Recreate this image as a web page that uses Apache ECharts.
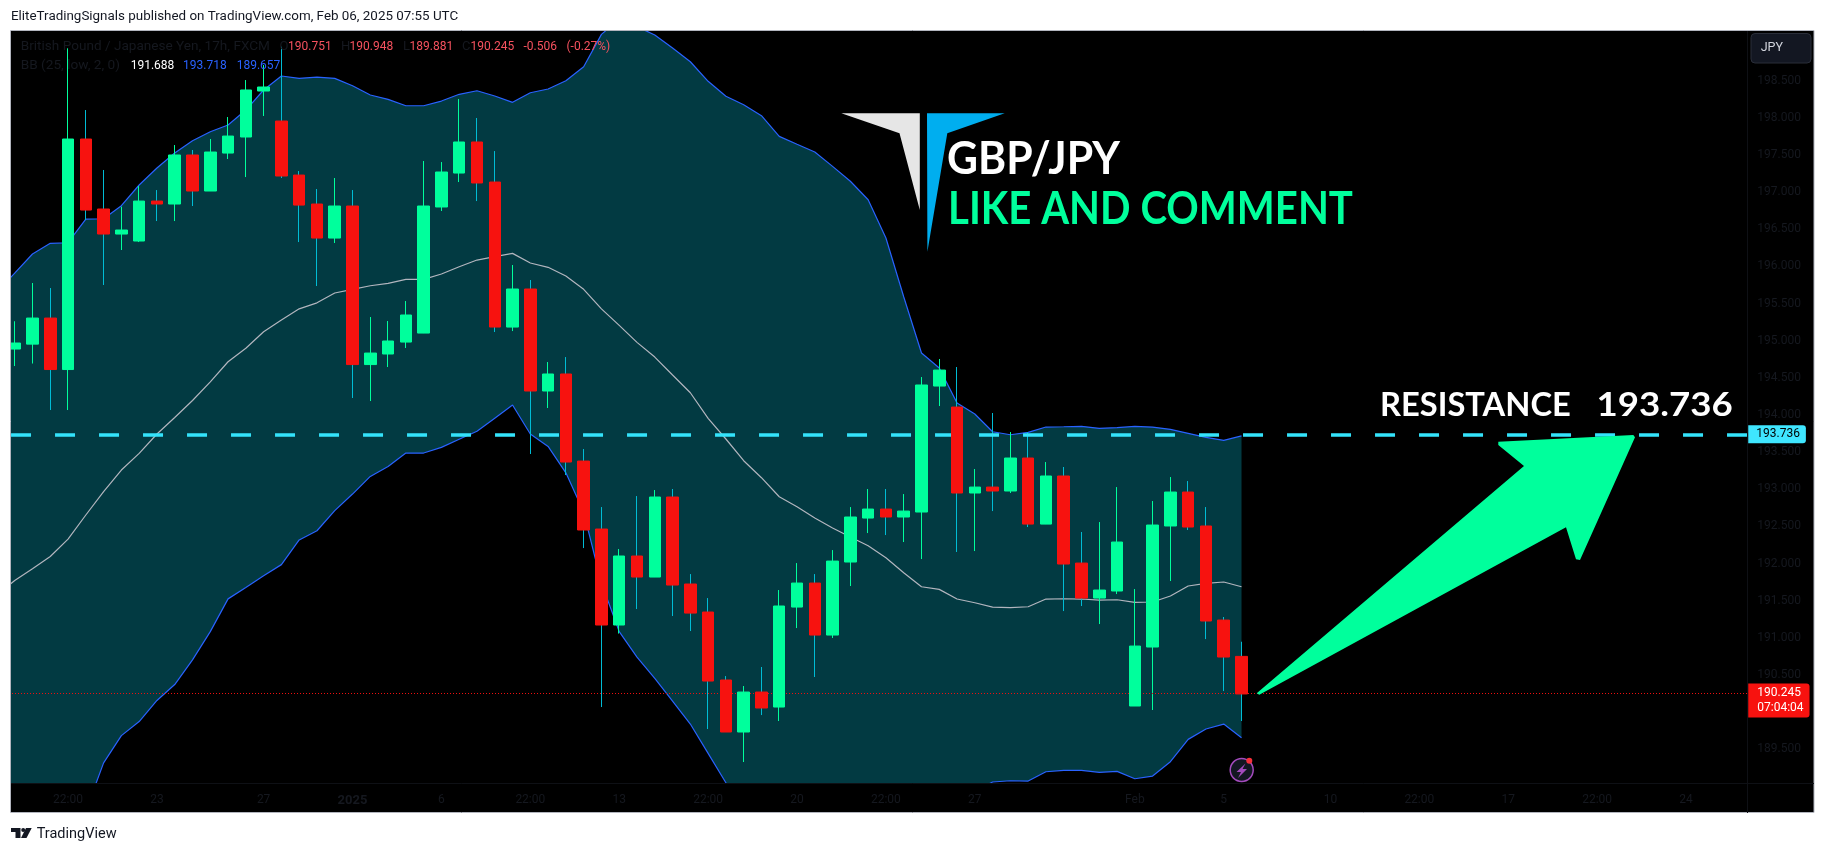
<!DOCTYPE html>
<html><head><meta charset="utf-8">
<style>html,body{margin:0;padding:0;background:#fff}#c{width:1826px;height:853px}</style>
<script src="https://cdn.jsdelivr.net/npm/echarts@6/dist/echarts.min.js"></script>
</head><body><div id="c"></div>
<script>
const opens=[194.888,194.954,195.305,194.612,197.715,196.773,196.436,196.342,196.880,196.840,197.500,197.015,197.526,197.742,198.361,197.957,197.230,196.840,196.382,196.813,194.679,194.821,194.982,195.103,196.800,197.257,197.675,197.136,195.184,195.696,194.323,194.552,193.380,192.465,191.173,192.102,191.819,192.896,191.725,191.348,190.433,189.733,190.271,190.069,191.415,191.738,191.038,192.021,192.613,192.734,192.627,192.694,194.390,194.107,192.950,193.030,192.977,193.421,192.532,193.179,192.007,191.536,191.631,190.083,190.877,192.506,192.963,192.506,191.240,190.751];
const closes=[194.969,195.305,194.612,197.715,196.759,196.436,196.490,196.880,196.840,197.500,197.015,197.540,197.755,198.375,198.415,197.217,196.826,196.382,196.813,194.679,194.834,194.996,195.346,196.813,197.271,197.675,197.123,195.184,195.696,194.323,194.552,193.367,192.452,191.173,192.102,191.819,192.896,191.711,191.334,190.419,189.733,190.271,190.056,191.429,191.738,191.038,192.034,192.627,192.734,192.627,192.707,194.404,194.605,192.950,193.030,192.977,193.421,192.532,193.179,191.994,191.536,191.644,192.290,190.890,192.519,192.963,192.492,191.227,190.742,190.245];
const lows=[194.659,194.693,194.067,194.067,196.625,195.750,196.221,196.328,196.611,196.611,196.813,197.015,197.446,197.203,198.025,197.190,196.328,195.736,196.315,194.229,194.188,194.646,194.902,195.103,196.746,197.136,196.880,195.117,195.130,193.475,194.094,193.192,192.209,190.069,191.058,191.388,191.819,191.294,191.092,189.773,189.733,189.329,189.961,189.881,191.132,190.473,190.998,191.698,192.411,192.384,192.290,192.061,194.121,192.156,192.169,192.707,192.950,192.492,192.532,191.361,191.429,191.186,191.590,190.083,190.029,191.765,192.452,190.984,190.284,189.881];
const highs=[195.262,195.777,195.709,198.936,198.105,197.298,196.804,197.082,197.028,197.634,197.567,197.715,198.011,198.509,198.711,198.957,197.284,197.042,197.190,197.028,195.319,195.265,195.534,197.419,197.405,198.253,197.998,197.553,196.019,195.817,194.713,194.780,193.542,192.761,192.196,192.909,192.990,193.004,191.859,191.536,190.486,190.352,190.608,191.644,192.007,191.859,192.182,192.761,193.004,193.004,192.936,194.511,194.754,194.646,193.273,194.027,193.771,193.771,193.367,193.300,192.425,192.559,193.030,191.657,192.842,193.165,193.111,192.761,191.281,190.948];
// Bollinger bands: first value belongs to the bar just left of the visible pane
const bbUpper=[195.655,195.911,196.167,196.311,196.319,196.638,196.642,196.817,197.096,197.325,197.526,197.692,197.813,197.903,198.105,198.375,198.563,198.532,198.549,198.532,198.432,198.307,198.249,198.163,198.163,198.226,198.317,198.365,198.294,198.209,198.338,198.388,198.500,198.688,199.124,199.328,199.228,199.115,198.940,198.755,198.492,198.290,198.177,198.029,197.751,197.644,197.540,197.347,197.146,196.898,196.382,195.592,194.834,194.632,194.161,194.013,193.775,193.734,193.767,193.838,193.842,193.848,193.821,193.829,193.848,193.838,193.807,193.753,193.699,193.659,193.718];
const bbBasis=[191.577,191.772,191.929,192.096,192.330,192.654,192.970,193.259,193.483,193.744,193.966,194.195,194.447,194.717,194.898,195.121,195.278,195.429,195.510,195.642,195.692,195.740,195.772,195.826,195.826,195.898,195.996,196.086,196.131,196.176,196.046,195.988,195.871,195.692,195.429,195.206,194.978,194.780,194.538,194.300,193.955,193.677,193.385,193.156,192.900,192.765,192.613,192.479,192.357,192.240,192.079,191.877,191.688,191.653,191.523,191.473,191.415,191.406,191.419,191.523,191.527,191.523,191.509,191.513,191.478,191.483,191.563,191.698,191.734,191.752,191.688];
const bbLower=[187.498,187.633,187.692,187.882,188.346,188.669,189.318,189.684,189.874,190.158,190.372,190.704,191.084,191.525,191.678,191.835,191.986,192.318,192.442,192.713,192.936,193.173,193.306,193.488,193.488,193.564,193.673,193.782,193.957,194.134,193.744,193.577,193.222,192.694,191.738,191.084,190.742,190.455,190.150,189.840,189.446,189.050,188.592,188.283,188.050,187.888,187.686,187.610,187.569,187.583,187.775,188.162,188.543,188.674,188.885,188.933,189.060,189.077,189.073,189.198,189.217,189.217,189.190,189.203,189.104,189.140,189.333,189.634,189.773,189.840,189.657];
const timeTickSlots=[4,9,15,20,25,30,35,40,45,50,55,64,69,75,80,85,90,95];
const timeTickLabels=['22:00','23','27','2025','6','22:00','13','22:00','20','22:00','27','Feb','5','10','22:00','17','22:00','24'];
const hiddenPriceTicks=[199.5,199,190,189];
const resistanceLevel=193.736;
const lastClose=190.245;

const slotCount=99;
const categories=[];
for(let i=0;i<slotCount;i++){const k=timeTickSlots.indexOf(i);categories.push(k>=0?timeTickLabels[k]:'\u200b'+i);}
const blank=['-','-','-','-'];
const wickData=[blank].concat(opens.map((o,i)=>[o,closes[i],lows[i],highs[i]]));
const bodyData=[blank].concat(opens.map((o,i)=>[o,closes[i],Math.min(o,closes[i]),Math.max(o,closes[i])]));
const bandSpan=bbUpper.map((u,i)=>+(u-bbLower[i]).toFixed(3));

const GREEN='#00ff9c',RED='#f7120f',CYAN='#00bcd4',FAINT='#15181f',BLUE='#2962ff',BAND='#023a42';
const UI='Roboto, sans-serif';
function txt(x,y,text,fill,size,o){o=o||{};return {type:'text',x:x,y:y,z:o.z||12,silent:true,scaleX:o.sx||1,
  style:{text:text,fill:fill,font:(o.w||'normal')+' '+size+'px '+(o.f||UI),align:o.a||'left',verticalAlign:'middle'}};}
function poly(points,fill,z){return {type:'polygon',z:z||11,silent:true,shape:{points:points},style:{fill:fill}};}
function rect(x,y,w,h,fill,z,extra){return {type:'rect',z:z,silent:true,shape:Object.assign({x:x,y:y,width:w,height:h},extra&&extra.shape||{}),style:Object.assign({fill:fill},extra&&extra.style||{})};}

const graphics=[
  rect(11,30,1803,783,'#000',-10),
  // page margin around the pane
  rect(0,0,1826,30,'#fff',6),rect(0,813,1826,40,'#fff',6),rect(0,0,11,853,'#fff',6),rect(1814,0,12,853,'#fff',6),
  // time axis strip over the clipped pane
  rect(11,783,1803,30,'#000',6),
  rect(10.5,30.5,1803.5,782,'none',7,{style:{stroke:'#b2b5be',lineWidth:1}}),
  {type:'line',z:7,silent:true,shape:{x1:1747.5,y1:31,x2:1747.5,y2:813},style:{stroke:'#0e1015',lineWidth:1}},
  {type:'line',z:7,silent:true,shape:{x1:11,y1:783.5,x2:1814,y2:783.5},style:{stroke:'#0e1015',lineWidth:1}},
  txt(11,16.5,'EliteTradingSignals published on TradingView.com, Feb 06, 2025 07:55 UTC','#131722',13.4),
  txt(20.7,46.7,'British Pound / Japanese Yen, 17h, FXCM',FAINT,13,{sx:1.045}),
  txt(279.6,46.7,'O',FAINT,13),txt(288,46.7,'190.751','#f7525f',12),
  txt(341,46.7,'H',FAINT,13),txt(349.5,46.7,'190.948','#f7525f',12),
  txt(403,46.7,'L',FAINT,13),txt(409.5,46.7,'189.881','#f7525f',12),
  txt(462,46.7,'C',FAINT,13),txt(470.5,46.7,'190.245','#f7525f',12),
  txt(523.5,46.7,'-0.506','#f7525f',12),txt(566.5,46.7,'(-0.27%)','#f7525f',12),
  txt(20.7,66,'BB (25, low, 2, 0)',FAINT,13,{sx:1.05}),
  txt(130.7,66,'191.688','#ffffff',12),txt(183,66,'193.718',BLUE,12),txt(236.7,66,'189.657',BLUE,12),
  // JPY button
  rect(1751,33.5,60,29.5,'#131722',12,{shape:{r:4},style:{stroke:'#2a2e39',lineWidth:1}}),
  txt(1760.7,48,'JPY','#d1d4dc',12.5,{z:13}),
  // logo
  poly([[841.3,113.3],[919.8,113.3],[919.8,210],[899.5,133.3]],'#e6e6e6'),
  poly([[927,113.3],[1004.7,113.3],[947.3,133.3],[927.4,251.7]],'#00aeef'),
  txt(947,159.5,'GBP/JPY','#ffffff',45,{w:'bold',f:'Lato, sans-serif',sx:0.95}),
  txt(948,209,'LIKE AND COMMENT',GREEN,45,{w:'bold',f:'Lato, sans-serif',sx:0.893}),
  txt(1380,405,'RESISTANCE','#ffffff',33,{f:'Lato, sans-serif',w:'bold',sx:0.99}),
  txt(1596.5,405,'193.736','#ffffff',33,{f:'Lato, sans-serif',w:'bold',sx:1.11}),
  // arrow
  poly([[1256.7,693.3],[1524,466],[1498.3,445],[1498.3,441.7],[1633.3,435],[1635,437.3],[1580,560],[1576,559.3],[1566,527.3],[1259.3,694.7]],GREEN),
  // alert icon
  {type:'circle',z:11,silent:true,shape:{cx:1241.7,cy:770,r:11.5},style:{fill:'#131722',stroke:'#a34bbd',lineWidth:1.5}},
  poly([[1245.5,763.5],[1236.5,772],[1241,772],[1238,778],[1247,769],[1242.5,769]],'#a34bbd',12),
  {type:'circle',z:12,silent:true,shape:{cx:1249.3,cy:760.7,r:3},style:{fill:'#f7303a'}},
  // footer logo
  poly([[11,828],[20.5,828],[20.5,838],[15.5,838],[15.5,832],[11,832]],'#131722',12),
  {type:'circle',z:12,silent:true,shape:{cx:23.2,cy:830,r:2},style:{fill:'#131722'}},
  poly([[26,828],[31.7,828],[26.5,838],[21,838]],'#131722',12),
  txt(36.7,834.5,'TradingView','#131722',14.5)
];

const option={
  animation:false,
  grid:{left:-11.97,top:6.41,width:1760.22,height:780.05,containLabel:false,outerBoundsMode:'none'},
  xAxis:{type:'category',data:categories,boundaryGap:true,z:8,
    axisLine:{show:false},axisTick:{show:false},splitLine:{show:false},
    axisLabel:{interval:0,margin:8,fontFamily:'Roboto',fontSize:12,color:FAINT,
      formatter:v=>v.charAt(0)==='\u200b'?'':(v==='2025'?'{b|2025}':v),
      rich:{b:{fontFamily:'Roboto',fontSize:13,fontWeight:'bold',color:FAINT}}}},
  yAxis:{type:'value',position:'right',min:189,max:199.5,interval:0.5,z:8,scale:true,
    axisLine:{show:false},axisTick:{show:false},splitLine:{show:false},
    axisLabel:{margin:9,padding:[2,0,0,0],fontFamily:'Roboto',fontSize:12,color:FAINT,align:'left',
      formatter:v=>hiddenPriceTicks.indexOf(v)>=0?'':v.toFixed(3)}},
  graphic:{elements:graphics},
  series:[
    {name:'band base',type:'line',stack:'bb',data:bbLower,symbol:'none',lineStyle:{opacity:0},z:2,silent:true},
    {name:'band',type:'line',stack:'bb',data:bandSpan,symbol:'none',lineStyle:{opacity:0},areaStyle:{color:BAND,opacity:1},z:2,silent:true},
    {name:'BB upper',type:'line',data:bbUpper,symbol:'none',lineStyle:{color:BLUE,width:1.2},z:3,silent:true},
    {name:'BB lower',type:'line',data:bbLower,symbol:'none',lineStyle:{color:BLUE,width:1.2},z:3,silent:true},
    {name:'BB basis',type:'line',data:bbBasis,symbol:'none',lineStyle:{color:'#b2b5be',width:1.2},z:3,silent:true},
    {name:'wicks',type:'candlestick',data:wickData,barWidth:1,z:4,silent:true,
      itemStyle:{color:GREEN,color0:CYAN,borderColor:GREEN,borderColor0:CYAN,borderWidth:1}},
    {name:'GBP/JPY',type:'candlestick',data:bodyData,barWidth:12,z:5,silent:true,
      itemStyle:{color:GREEN,color0:RED,borderColor:GREEN,borderColor0:RED,borderWidth:1},
      markLine:{silent:true,symbol:['none','none'],animation:false,z:5,data:[
        {yAxis:resistanceLevel,lineStyle:{color:'#34e3fb',width:3.5,type:[20,24],dashOffset:21},
          label:{show:true,position:'end',distance:0,formatter:'193.736',color:'#000',backgroundColor:'#3fe6ff',
            fontFamily:'Roboto',fontSize:12,padding:[3,6,3,8],borderRadius:[0,3,3,0]}},
        {yAxis:lastClose,lineStyle:{color:'#f01010',width:1,type:[1,2]},
          label:{show:true,position:'end',distance:0,offset:[0,7],formatter:'190.245\n07:04:04',color:'#fff',backgroundColor:RED,
            fontFamily:'Roboto',fontSize:12,lineHeight:15,padding:[2,6,2,9],borderRadius:[0,3,3,0]}}
      ]}}
  ]
};
echarts.init(document.getElementById('c'),null,{renderer:'canvas'}).setOption(option);
</script></body></html>
